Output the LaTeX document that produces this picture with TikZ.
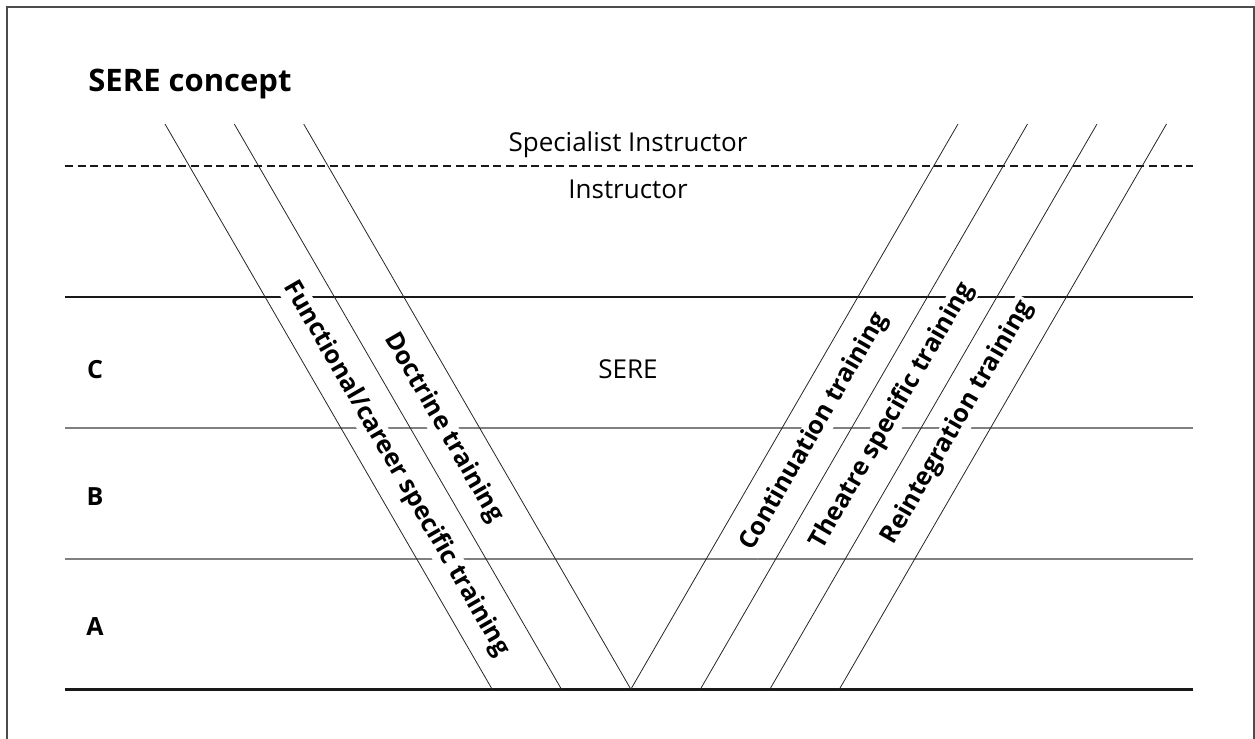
\documentclass[tikz,border=0pt]{standalone}
\usepackage{fontspec}
\setmainfont{Open Sans}
\begin{document}
\begin{tikzpicture}[x=0.5pt,y=-0.5pt,
  frame/.style={line width=0.7pt, black!70},
  dashline/.style={line width=1pt, black!90, dash pattern=on 4pt off 2.3pt},
  thickline/.style={line width=1.2pt, black!90},
  greyline/.style={line width=0.7pt, black!50},
  baseline/.style={line width=1.5pt, black!90},
  diag/.style={line width=0.4pt, black!85},
  lbl/.style={font=\bfseries\fontsize{12.5}{14}\selectfont, fill=white, inner sep=1.5pt, text height=1.55ex, text depth=0.45ex},
  plain/.style={font=\fontsize{13}{15}\selectfont, inner sep=0pt, anchor=base},
  level/.style={font=\bfseries\fontsize{12.5}{14}\selectfont, inner sep=0pt, anchor=base},
  title/.style={font=\bfseries\fontsize{15.5}{18}\selectfont, inner sep=0pt, anchor=base west}]
\useasboundingbox (0,0) rectangle (1255,739);
% frame
\draw[frame] (7,745) -- (7,7) -- (1254,7) -- (1254,745);
% title
\node[title] (title) at (88,91) {SERE concept};
% horizontal levels
\draw[dashline] (65,166) -- (1193,166);
\draw[thickline] (65,297) -- (1193,297);
\draw[greyline] (65,428) -- (1193,428);
\draw[greyline] (65,559) -- (1193,559);
\draw[baseline] (65,689) -- (1193,689);
% plain labels
\node[plain] (spec) at (628,151.5) {Specialist Instructor};
\node[plain] (instr) at (628,198) {Instructor};
\node[plain] (sere) at (628,378) {SERE};
\node[level] (c) at (95,378) {C};
\node[level] (b) at (95,505) {B};
\node[level] (a) at (95,635) {A};
% rotated labels
\node[lbl, rotate=-60] (func) at (396,469) {Functional/career specific training};
\node[lbl, rotate=-60] (doct) at (443,428) {Doctrine training};
\node[lbl, rotate=60] (cont) at (815,432) {Continuation training};
\node[lbl, rotate=60] (theat) at (893,416) {Theatre specific training};
\node[lbl, rotate=60] (reint) at (958,423) {Reintegration training};
% diagonals
\coordinate (l1t) at (165,124);   \coordinate (l1b) at (492,689);
\coordinate (l2t) at (234.3,124); \coordinate (l2b) at (561.3,689);
\coordinate (l3t) at (303.7,124); \coordinate (l3b) at (630.7,689);
\coordinate (r1t) at (958,124);   \coordinate (r1b) at (631,689);
\coordinate (r2t) at (1027.5,124);\coordinate (r2b) at (700.5,689);
\coordinate (r3t) at (1097,124);  \coordinate (r3b) at (770,689);
\coordinate (r4t) at (1166.5,124);\coordinate (r4b) at (839.5,689);
\draw[diag] (l1t) -- (l1b);
\draw[diag] (l2t) -- (l2b);
\draw[diag] (l3t) -- (l3b);
\draw[diag] (r1t) -- (r1b);
\draw[diag] (r2t) -- (r2b);
\draw[diag] (r3t) -- (r3b);
\draw[diag] (r4t) -- (r4b);
\end{tikzpicture}
\end{document}
